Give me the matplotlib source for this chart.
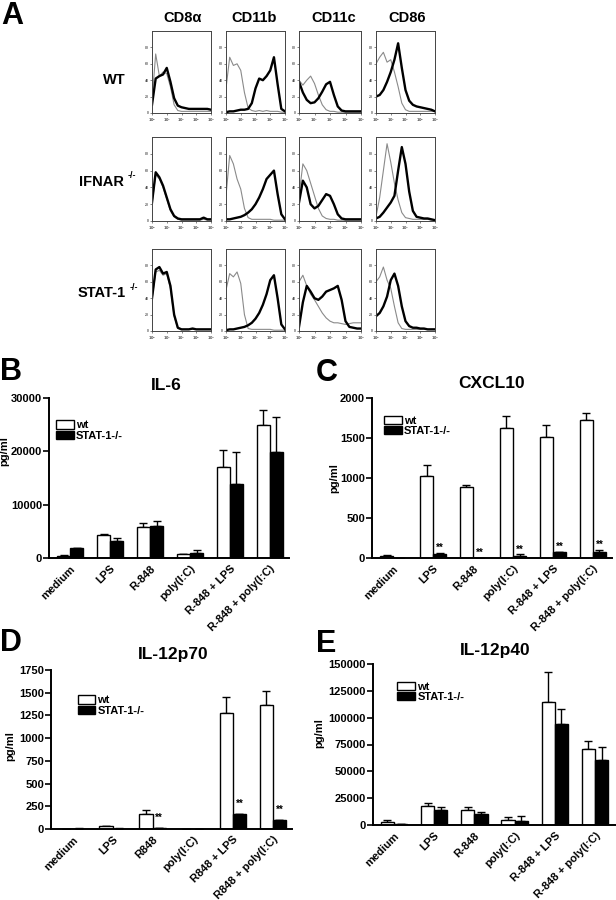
import numpy as np
import matplotlib
matplotlib.use("Agg")
import matplotlib.pyplot as plt
from matplotlib.patches import Patch

plt.rcParams['font.family'] = ['Liberation Sans', 'DejaVu Sans']
plt.rcParams['font.weight'] = 'bold'

# ---------- panel A: flow histograms (height in % of box, at log10 positions) ----------
log_pos = [0, 0.25, 0.5, 0.75, 1, 1.25, 1.5, 1.75, 2, 2.25, 2.5, 2.75, 3, 3.25, 3.5, 3.75, 4]
markers = ['CD8\u03b1', 'CD11b', 'CD11c', 'CD86']
strains = ['WT', 'IFNAR', 'STAT-1']

wt_cd8_black = [10, 42, 45, 47, 55, 38, 18, 9, 7, 6, 5, 5, 5, 5, 5, 5, 4]
wt_cd8_gray = [15, 72, 45, 50, 48, 32, 10, 3, 2, 2, 2, 2, 2, 2, 2, 2, 2]
wt_cd11b_black = [1, 2, 2, 3, 4, 4, 5, 12, 30, 42, 40, 45, 52, 68, 35, 5, 2]
wt_cd11b_gray = [30, 68, 58, 60, 52, 25, 6, 3, 2, 3, 2, 3, 2, 2, 2, 1, 1]
wt_cd11c_black = [38, 25, 16, 12, 13, 18, 26, 35, 38, 22, 8, 3, 2, 2, 2, 2, 2]
wt_cd11c_gray = [40, 34, 40, 45, 36, 22, 10, 4, 2, 2, 1, 1, 1, 1, 1, 1, 1]
wt_cd86_black = [20, 22, 28, 38, 50, 65, 85, 55, 28, 15, 10, 8, 7, 6, 5, 4, 2]
wt_cd86_gray = [60, 68, 74, 62, 65, 50, 32, 12, 4, 2, 2, 2, 2, 2, 2, 2, 2]

ko1_cd8_black = [22, 58, 52, 42, 28, 14, 6, 3, 2, 2, 2, 2, 2, 2, 4, 2, 2]
ko1_cd8_gray = [20, 55, 50, 40, 26, 12, 5, 2, 1, 1, 1, 1, 1, 1, 2, 1, 1]
ko1_cd11b_black = [2, 2, 3, 4, 5, 7, 10, 14, 20, 28, 38, 50, 55, 60, 32, 8, 2]
ko1_cd11b_gray = [30, 78, 68, 50, 38, 15, 4, 2, 2, 2, 2, 2, 2, 1, 1, 1, 1]
ko1_cd11c_black = [22, 48, 40, 20, 15, 18, 25, 32, 30, 20, 8, 3, 2, 2, 2, 2, 2]
ko1_cd11c_gray = [30, 68, 60, 45, 30, 15, 6, 3, 2, 2, 1, 1, 1, 1, 1, 1, 1]
ko1_cd86_black = [3, 5, 10, 16, 22, 30, 60, 88, 68, 35, 12, 5, 4, 3, 3, 2, 1]
ko1_cd86_gray = [5, 28, 60, 92, 70, 45, 25, 10, 4, 3, 2, 2, 2, 2, 2, 1, 1]

ko2_cd8_black = [40, 75, 78, 70, 72, 55, 20, 4, 2, 2, 2, 3, 2, 2, 2, 2, 2]
ko2_cd8_gray = [38, 72, 74, 68, 70, 52, 18, 3, 2, 2, 2, 2, 2, 2, 2, 2, 2]
ko2_cd11b_black = [1, 2, 2, 3, 4, 5, 7, 10, 15, 22, 32, 45, 62, 68, 40, 8, 2]
ko2_cd11b_gray = [50, 70, 66, 72, 58, 20, 3, 2, 2, 2, 2, 2, 2, 1, 1, 1, 1]
ko2_cd11c_black = [5, 35, 55, 48, 40, 38, 42, 48, 50, 52, 55, 38, 12, 5, 4, 3, 3]
ko2_cd11c_gray = [60, 68, 55, 45, 38, 30, 22, 16, 12, 10, 10, 9, 8, 9, 10, 10, 10]
ko2_cd86_black = [18, 22, 30, 42, 62, 70, 55, 30, 12, 6, 4, 4, 3, 3, 2, 2, 2]
ko2_cd86_gray = [60, 66, 78, 62, 52, 30, 10, 3, 2, 2, 2, 2, 2, 2, 2, 2, 2]

hist_black = [[wt_cd8_black, wt_cd11b_black, wt_cd11c_black, wt_cd86_black],
              [ko1_cd8_black, ko1_cd11b_black, ko1_cd11c_black, ko1_cd86_black],
              [ko2_cd8_black, ko2_cd11b_black, ko2_cd11c_black, ko2_cd86_black]]
hist_gray = [[wt_cd8_gray, wt_cd11b_gray, wt_cd11c_gray, wt_cd86_gray],
             [ko1_cd8_gray, ko1_cd11b_gray, ko1_cd11c_gray, ko1_cd86_gray],
             [ko2_cd8_gray, ko2_cd11b_gray, ko2_cd11c_gray, ko2_cd86_gray]]

# ---------- bar panels ----------
cats_a = ['medium', 'LPS', 'R-848', 'poly(I:C)', 'R-848 + LPS', 'R-848 + poly(I:C)']
cats_d = ['medium', 'LPS', 'R848', 'poly(I:C)', 'R848 + LPS', 'R848 + poly(I:C)']

il6_wt = [300, 4300, 5800, 700, 17000, 25000]
il6_wt_top = [500, 4500, 6600, 800, 20200, 27700]
il6_ko = [1800, 3100, 6000, 900, 13900, 19900]
il6_ko_top = [1900, 3800, 6900, 1500, 19900, 26400]

cxcl10_wt = [20, 1030, 890, 1620, 1510, 1720]
cxcl10_wt_top = [40, 1160, 910, 1770, 1660, 1810]
cxcl10_ko = [0, 55, 0, 20, 70, 80]
cxcl10_ko_top = [0, 60, 0, 45, 75, 100]
cxcl10_sig = ['', '**', '**', '**', '**', '**']

p70_wt = [3, 30, 160, 3, 1280, 1370]
p70_wt_top = [4, 32, 210, 4, 1450, 1520]
p70_ko = [5, 5, 10, 3, 160, 95]
p70_ko_top = [6, 6, 12, 4, 165, 100]
p70_sig = ['', '', '**', '', '**', '**']

p40_wt = [3000, 17500, 14000, 5000, 114500, 71000]
p40_wt_top = [4500, 20500, 16500, 7500, 143000, 78500]
p40_ko = [1000, 14000, 10000, 3500, 94500, 61000]
p40_ko_top = [1200, 16500, 12000, 8000, 108000, 72500]

W, H = 616, 900
fig = plt.figure(figsize=(W / 100, H / 100), dpi=100)


def box(x0, y0, x1, y1):
    return [x0 / W, 1 - y1 / H, (x1 - x0) / W, (y1 - y0) / H]


def ftext(x, y, s, **kw):
    fig.text(x / W, 1 - y / H, s, **kw)


# panel A
col_x = [(152, 211), (226, 285), (299, 361), (376, 435)]
row_y = [(31, 113), (137, 221), (249, 331)]
for r in range(3):
    for c in range(4):
        ax = fig.add_axes(box(col_x[c][0], row_y[r][0], col_x[c][1], row_y[r][1]))
        xs = 10 ** np.array(log_pos)
        ax.plot(xs, hist_gray[r][c], color='#8a8a8a', lw=0.8)
        ax.plot(xs, hist_black[r][c], color='black', lw=1.7)
        ax.set_xscale('log')
        ax.set_xlim(1, 1e4)
        ax.set_ylim(0, 100)
        ax.set_xticks([1, 10, 100, 1000, 10000])
        ax.set_xticklabels(['$10^0$', '$10^1$', '$10^2$', '$10^3$', '$10^4$'])
        ax.minorticks_off()
        ax.set_yticks([0, 20, 40, 60, 80])
        ax.tick_params(labelsize=2.5, length=1.5, width=0.5, pad=1, colors='#555555')
        for s in ax.spines.values():
            s.set_linewidth(0.7)
            s.set_color('#444444')

ftext(1, 1, 'A', fontsize=22, fontweight='bold', va='top', ha='left')
head_x = [183, 254, 334, 407]
for hx, m in zip(head_x, markers):
    ftext(hx, 18, m, fontsize=10.5, fontweight='bold', ha='center', va='center')
ftext(114, 80, 'WT', fontsize=10.5, fontweight='bold', ha='center', va='center')
ftext(124, 182, 'IFNAR', fontsize=10.5, fontweight='bold', ha='right', va='center')
ftext(128, 176, '-/-', fontsize=6.5, fontweight='bold', ha='left', va='center')
ftext(126, 293, 'STAT-1', fontsize=10.5, fontweight='bold', ha='right', va='center')
ftext(130, 287, '-/-', fontsize=6.5, fontweight='bold', ha='left', va='center')


def bar_panel(rect, cats, wt, wt_top, ko, ko_top, ymax, yticks, title, letter,
              title_xy, letter_xy, leg_xy, ylab_xy, sig=None, sig_off=2, xlim=(-0.53, 5.48)):
    ax = fig.add_axes(box(*rect))
    x = np.arange(len(cats))
    bw = 0.33
    wt = np.array(wt); ko = np.array(ko)
    ax.bar(x - bw / 2, wt, bw, color='white', edgecolor='black', lw=1.0, zorder=2)
    ax.bar(x + bw / 2, ko, bw, color='black', edgecolor='black', lw=1.0, zorder=2)
    ax.errorbar(x - bw / 2, wt, yerr=[np.zeros(len(wt)), np.array(wt_top) - wt],
                fmt='none', ecolor='black', elinewidth=1.0, capsize=3, capthick=1.0, zorder=1)
    ax.errorbar(x + bw / 2, ko, yerr=[np.zeros(len(ko)), np.array(ko_top) - ko],
                fmt='none', ecolor='black', elinewidth=1.0, capsize=3, capthick=1.0, zorder=1)
    if sig:
        for xi, top, s in zip(x, ko_top, sig):
            if s:
                ax.annotate(s, (xi + bw / 2, top), xytext=(0, sig_off), textcoords='offset points',
                            ha='center', va='bottom', fontsize=7, fontweight='bold')
    ax.set_xlim(*xlim)
    ax.set_ylim(0, ymax)
    ax.set_yticks(yticks)
    ax.set_xticks(x)
    ax.set_xticklabels(cats, rotation=45, ha='right', rotation_mode='anchor',
                       fontsize=8, fontweight='bold')
    ax.tick_params(axis='x', length=0, pad=4)
    ax.tick_params(axis='y', length=4, width=1.2, labelsize=8, pad=1)
    for t in ax.get_yticklabels():
        t.set_fontweight('bold')
    ax.spines['top'].set_visible(False)
    ax.spines['right'].set_visible(False)
    ax.spines['left'].set_linewidth(1.4)
    ax.spines['bottom'].set_linewidth(1.4)
    ax.set_ylabel('pg/ml', fontsize=8, fontweight='bold')
    ax.yaxis.set_label_coords(*ylab_xy)
    handles = [Patch(facecolor='white', edgecolor='black', lw=1.0),
               Patch(facecolor='black', edgecolor='black', lw=1.0)]
    ax.legend(handles, ['wt', 'STAT-1-/-'], loc='upper left', bbox_to_anchor=leg_xy,
              frameon=False, fontsize=8, handlelength=1.6, handleheight=0.75,
              handletextpad=0.2, labelspacing=0.05, borderaxespad=0, borderpad=0)
    ftext(title_xy[0], title_xy[1], title, fontsize=12.5, fontweight='bold', ha='center', va='center')
    ftext(letter_xy[0], letter_xy[1], letter, fontsize=22, fontweight='bold', ha='left', va='center')
    return ax


bar_panel((49, 398, 289, 558), cats_a, il6_wt, il6_wt_top, il6_ko, il6_ko_top,
          30000, [0, 10000, 20000, 30000], 'IL-6', 'B', (166, 385), (0, 372), (0.03, 0.86),
          (-0.165, 0.67))
bar_panel((372, 398, 612, 558), cats_a, cxcl10_wt, cxcl10_wt_top, cxcl10_ko, cxcl10_ko_top,
          2000, [0, 500, 1000, 1500, 2000], 'CXCL10', 'C', (492, 383), (316, 373), (0.05, 0.89),
          (-0.135, 0.5), sig=cxcl10_sig, sig_off=0)
bar_panel((51, 670, 292, 829), cats_d, p70_wt, p70_wt_top, p70_ko, p70_ko_top,
          1750, [0, 250, 500, 750, 1000, 1250, 1500, 1750], 'IL-12p70', 'D', (173, 654), (0, 643),
          (0.11, 0.84), (-0.15, 0.52), sig=p70_sig, sig_off=4, xlim=(-0.54, 5.48))
bar_panel((373, 664, 616, 825), cats_a, p40_wt, p40_wt_top, p40_ko, p40_ko_top,
          150000, [0, 25000, 50000, 75000, 100000, 125000, 150000], 'IL-12p40', 'E', (495, 651),
          (316, 644), (0.1, 0.89), (-0.2, 0.57), xlim=(-0.52, 5.52))

fig.savefig('out.png', dpi=100)
